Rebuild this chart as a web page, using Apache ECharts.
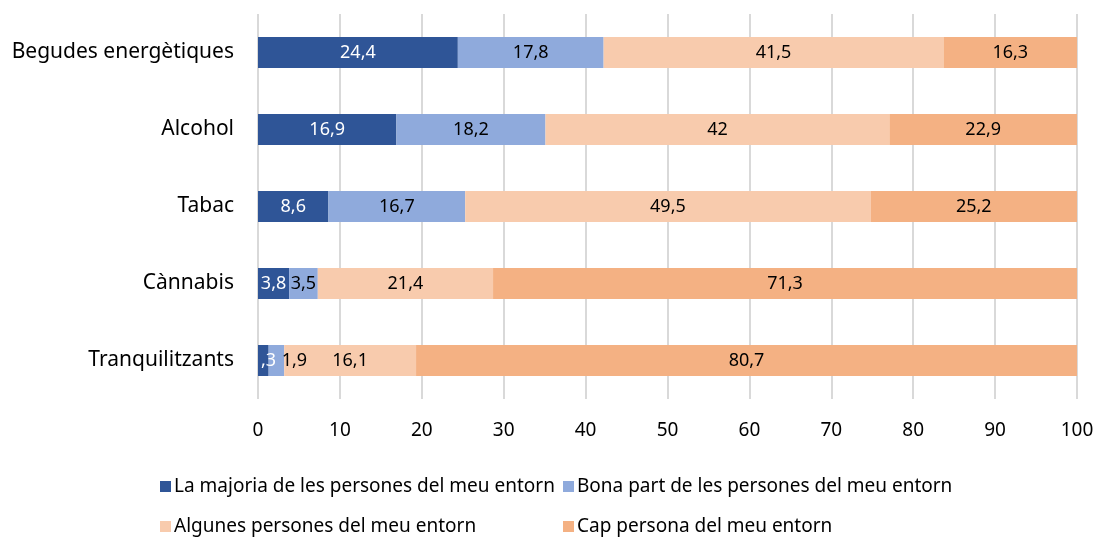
<!DOCTYPE html>
<html>
<head>
<meta charset="utf-8">
<script src="https://cdn.jsdelivr.net/npm/echarts@6/dist/echarts.min.js"></script>
<style>
  html, body { margin: 0; padding: 0; background: #fff; }
  #chart { width: 1098px; height: 537px; }
</style>
</head>
<body>
<div id="chart"></div>
<script>
const categories = ['Begudes energètiques', 'Alcohol', 'Tabac', 'Cànnabis', 'Tranquilitzants'];
const seriesNames = [
  'La majoria de les persones del meu entorn',
  'Bona part de les persones del meu entorn',
  'Algunes persones del meu entorn',
  'Cap persona del meu entorn'
];
const majoria = [24.4, 16.9, 8.6, 3.8, 1.3];
const bonaPart = [17.8, 18.2, 16.7, 3.5, 1.9];
const algunes = [41.5, 42, 49.5, 21.4, 16.1];
const cap = [16.3, 22.9, 25.2, 71.3, 80.7];
const colors = ['#2f5597', '#8faadc', '#f8cbad', '#f4b183'];

const font = 'Noto Sans';
const fmt = p => String(p.value).replace('.', ',');

const chart = echarts.init(document.getElementById('chart'));

const makeSeries = (name, data, color, labelColor) => ({
  name: name,
  type: 'bar',
  stack: 'total',
  barWidth: 31,
  data: data,
  itemStyle: { color: color },
  label: {
    show: true,
    position: 'inside',
    color: labelColor,
    fontFamily: font,
    fontSize: 18,
    formatter: fmt
  }
});

const s2 = makeSeries(seriesNames[1], bonaPart, colors[1], '#000');
// Excel pushes the tiny "1,9" label past the end of its bar
s2.data = bonaPart.map((v, i) => i === 4 ? { value: v, label: { offset: [18, 0] } } : v);

// one legend per item so the two columns line up like the original
const legendAt = (name, left, top) => ({
  data: [name],
  left: left, top: top,
  itemWidth: 11, itemHeight: 11, itemGap: 4,
  icon: 'rect',
  textStyle: { color: '#000', fontFamily: font, fontSize: 19, padding: [0, 0, 0, -2] }
});

const option = {
  animation: false,
  grid: { left: 258, right: 21, top: 14, bottom: 138 },
  xAxis: {
    type: 'value',
    min: 0,
    max: 100,
    interval: 10,
    axisLine: { show: false },
    axisTick: { show: false },
    splitLine: { lineStyle: { color: '#d9d9d9', width: 2 } },
    axisLabel: { color: '#000', fontFamily: font, fontSize: 19, margin: 22 }
  },
  yAxis: {
    type: 'category',
    inverse: true,
    data: categories,
    axisLine: { show: false },
    axisTick: { show: false },
    axisLabel: { color: '#000', fontFamily: font, fontSize: 21, margin: 24 }
  },
  legend: [
    legendAt(seriesNames[0], 155, 472),
    legendAt(seriesNames[1], 558, 472),
    legendAt(seriesNames[2], 155, 512),
    legendAt(seriesNames[3], 558, 512)
  ],
  series: [
    makeSeries(seriesNames[0], majoria, colors[0], '#fff'),
    s2,
    makeSeries(seriesNames[2], algunes, colors[2], '#000'),
    makeSeries(seriesNames[3], cap, colors[3], '#000')
  ]
};

chart.setOption(option);
window.addEventListener('resize', () => {
  chart.resize();
});
</script>
</body>
</html>
